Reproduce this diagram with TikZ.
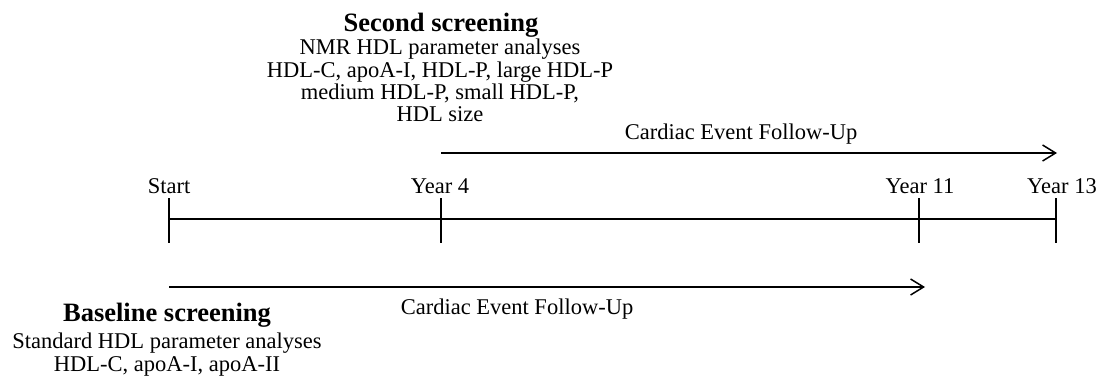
\documentclass[tikz,border=0pt]{standalone}
\usepackage{fontspec}
\setmainfont{Liberation Serif}
\usetikzlibrary{arrows.meta}
\begin{document}
\begin{tikzpicture}[x=1pt,y=1pt,
  txt/.style={font=\fontsize{22.5}{23}\selectfont, inner sep=0pt, anchor=base},
  head/.style={font=\fontsize{26.5}{28}\selectfont\bfseries, inner sep=0pt, anchor=base},
  tl/.style={line width=1.6pt},
  arr/.style={line width=1.5pt, -{Straight Barb[length=13pt,width=16pt,line width=1.5pt]}}]
\useasboundingbox (0,0) rectangle (1099,-378);
% ticks
\coordinate (t0) at (169,-219);
\coordinate (t4) at (441,-219);
\coordinate (t11) at (919,-219);
\coordinate (t13) at (1056,-219);
\foreach \n in {t0,t4,t11,t13}{
  \coordinate (\n u) at ([yshift=21pt]\n);
  \coordinate (\n d) at ([yshift=-24pt]\n);
  \draw[tl] (\n u) -- (\n d);
}
\draw[tl] (t0) -- (t13);
% year labels
\node[txt] (lstart) at (169,-193) {Start};
\node[txt] (l4) at (440,-193) {Year 4};
\node[txt] (l11) at (920,-193) {Year 11};
\node[txt] (l13) at (1062,-193) {Year 13};
% top arrow
\coordinate (a1s) at (441,-153);
\coordinate (a1e) at (1057,-153);
\draw[arr] (a1s) -- (a1e);
\node[txt] (c1) at (741,-139) {Cardiac Event Follow-Up};
% bottom arrow
\coordinate (a2s) at (169,-287);
\coordinate (a2e) at (925,-287);
\draw[arr] (a2s) -- (a2e);
\node[txt] (c2) at (517,-314) {Cardiac Event Follow-Up};
% second screening
\node[head] (h2) at (441,-31) {Second screening};
\node[txt] (s1) at (440,-54) {NMR HDL parameter analyses};
\node[txt] (s2) at (440,-77) {HDL-C, apoA-I, HDL-P, large HDL-P};
\node[txt] (s3) at (440,-99) {medium HDL-P, small HDL-P,};
\node[txt] (s4) at (440,-121) {HDL size};
% baseline screening
\node[head] (h1) at (167,-321) {Baseline screening};
\node[txt] (b1) at (167,-348) {Standard HDL parameter analyses};
\node[txt] (b2) at (167,-371) {HDL-C, apoA-I, apoA-II};
\end{tikzpicture}
\end{document}
